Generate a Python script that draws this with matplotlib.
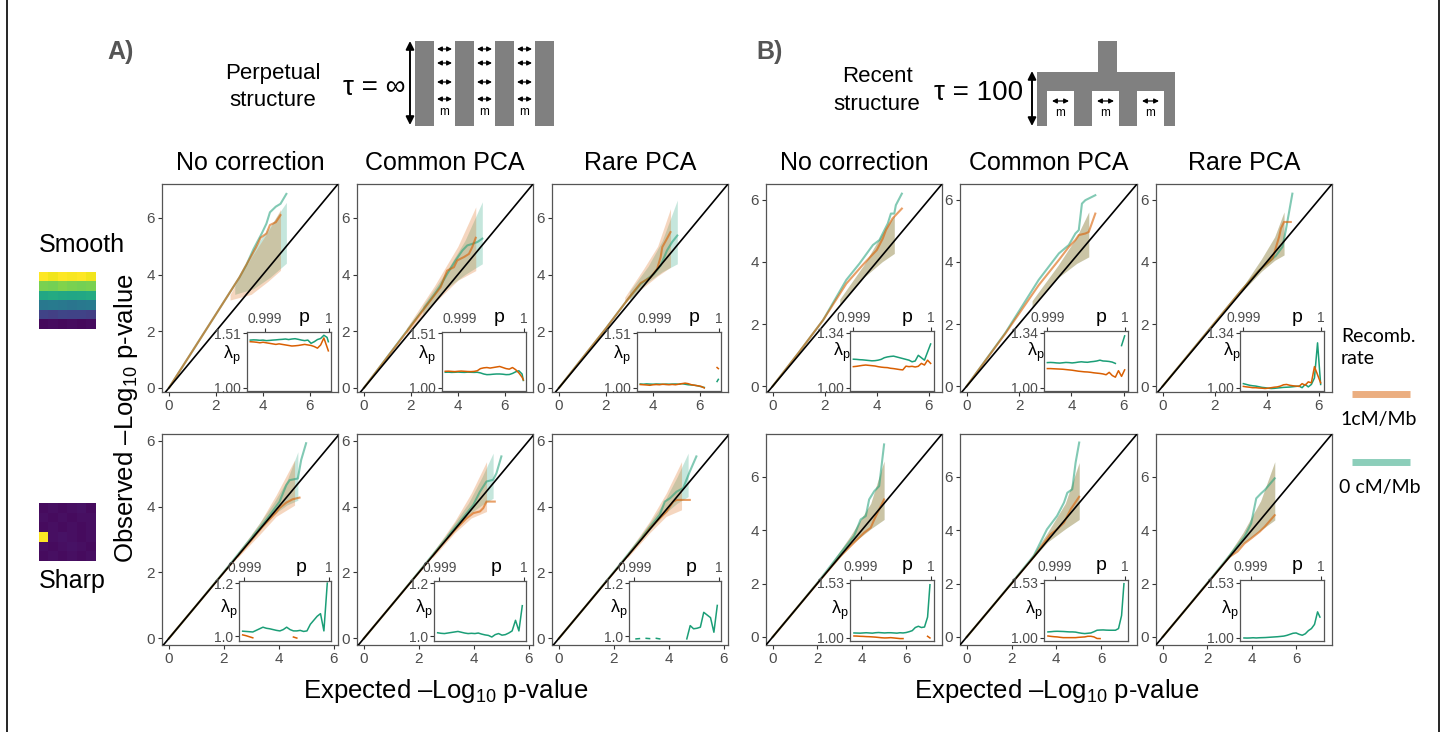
import matplotlib

matplotlib.use("Agg")
import matplotlib.pyplot as plt

W, H = 1445, 732
nan = float("nan")
ORANGE = "#d95f02"
GREEN = "#1b9e77"
GREY = "#4d4d4d"

# ── QQ curves: (expected, observed) ─────────────────────────────
# A) perpetual structure, smooth
A_SM_NONE_OR = ([0, 1, 2, 3, 3.3, 3.7, 3.9, 4.15, 4.3, 4.55, 4.75],
                [0, 1.3, 2.6, 3.9, 4.35, 4.95, 5.3, 5.45, 5.75, 5.85, 6.1])
A_SM_NONE_GR = ([0, 1, 2, 3, 3.3, 3.6, 3.95, 4.15, 4.3, 4.55, 4.75, 5.0],
                [0, 1.3, 2.6, 3.9, 4.35, 4.9, 5.45, 5.8, 6.2, 6.4, 6.5, 6.85])
A_SM_COMMON_OR = ([0, 1, 2, 3, 3.26, 3.54, 3.83, 3.97, 4.26, 4.47, 4.61, 4.76],
                  [0, 1.09, 2.18, 3.27, 3.55, 4.14, 4.26, 4.5, 4.62, 4.73, 4.97, 5.3])
A_SM_COMMON_GR = ([0, 1, 2, 3, 3.26, 3.54, 3.9, 4.19, 4.4, 4.6, 4.83, 5.04],
                  [0, 1.1, 2.2, 3.3, 3.61, 4.02, 4.5, 4.85, 5.03, 5.08, 5.15, 5.27])
A_SM_RARE_OR = ([0, 1, 2, 3, 3.48, 3.9, 4.18, 4.33, 4.4, 4.6, 4.75],
                [0, 1.05, 2.1, 3.2, 3.7, 3.9, 4.2, 4.62, 4.97, 5.27, 5.5])
A_SM_RARE_GR = ([0, 1, 2, 3, 3.48, 4.04, 4.33, 4.6, 4.82, 5.04],
                [0, 1.05, 2.1, 3.2, 3.67, 4.02, 4.32, 4.85, 5.15, 5.38])
# A) perpetual structure, sharp
A_SH_NONE_OR = ([0, 1, 2, 3, 3.4, 3.9, 4.02, 4.27, 4.5, 4.75],
                [0, 1.0, 2.0, 2.98, 3.38, 3.82, 3.95, 4.12, 4.22, 4.27])
A_SH_NONE_GR = ([0, 1, 2, 3, 3.5, 4.02, 4.27, 4.39, 4.69, 4.81, 4.99],
                [0, 1.0, 2.02, 3.05, 3.55, 4.14, 4.65, 4.8, 4.85, 5.41, 5.92])
A_SH_COMMON_OR = ([0, 1, 2, 2.76, 3.37, 3.73, 3.98, 4.22, 4.34, 4.46, 4.76],
                  [0, 1.0, 2.0, 2.76, 3.34, 3.64, 3.8, 3.85, 3.95, 4.15, 4.15])
A_SH_COMMON_GR = ([0, 1, 2, 3, 3.5, 3.98, 4.22, 4.46, 4.7, 4.82, 5.0],
                  [0, 1.0, 2.02, 3.05, 3.55, 4.05, 4.45, 4.76, 4.81, 5.01, 5.52])
A_SH_RARE_OR = ([0, 1, 2, 3, 3.31, 3.67, 3.92, 4.16, 4.28, 4.76],
                [0, 1.0, 2.0, 3.0, 3.34, 3.64, 3.85, 4.15, 4.2, 4.2])
A_SH_RARE_GR = ([0, 1, 2, 3, 3.67, 3.85, 4.04, 4.28, 4.52, 4.76, 5.0],
                [0, 1.0, 2.02, 3.05, 3.75, 4.15, 4.25, 4.45, 4.56, 5.06, 5.52])
# B) recent structure, smooth
B_SM_NONE_OR = ([0, 1, 1.94, 2.83, 3.46, 4.0, 4.23, 4.35, 4.6, 4.96],
                [0, 1.08, 2.13, 3.3, 3.9, 4.38, 4.75, 5.02, 5.39, 5.71])
B_SM_NONE_GR = ([0, 1, 1.94, 2.83, 3.34, 3.85, 4.1, 4.42, 4.54, 4.67, 4.73, 4.96],
                [0, 1.08, 2.13, 3.42, 3.95, 4.54, 4.7, 5.23, 5.55, 5.55, 5.82, 6.19])
B_SM_COMMON_OR = ([0, 1.48, 2.75, 3.52, 3.9, 4.15, 4.28, 4.53, 4.66, 4.91],
                  [0, 1.7, 3.25, 4.06, 4.48, 4.7, 4.86, 4.91, 4.96, 5.55])
B_SM_COMMON_GR = ([0, 1.48, 2.75, 3.52, 3.9, 4.15, 4.28, 4.4, 4.53, 4.91],
                  [0, 1.72, 3.42, 4.27, 4.54, 4.91, 5.02, 5.87, 5.98, 6.14])
B_SM_RARE_OR = ([0, 1, 2, 3, 3.7, 4.22, 4.47, 4.54, 4.66, 4.92],
                [0, 1.02, 2.04, 3.06, 3.72, 4.1, 4.8, 5.07, 5.28, 5.28])
B_SM_RARE_GR = ([0, 1, 2, 3, 3.7, 4.35, 4.6, 4.73, 4.98],
                [0, 1.02, 2.04, 3.06, 3.72, 4.2, 4.48, 5.02, 6.19])
# B) recent structure, sharp
B_SH_NONE_OR = ([0, 1, 2, 3.05, 3.65, 4.1, 4.4, 4.56, 5.0],
                [0, 1.0, 2.0, 3.03, 3.53, 3.9, 4.09, 4.4, 5.15])
B_SH_NONE_GR = ([0, 1, 2, 3.05, 3.65, 3.95, 4.18, 4.33, 4.56, 4.78, 5.0],
                [0, 1.0, 2.02, 3.15, 3.78, 4.4, 4.53, 5.15, 5.46, 5.65, 7.21])
B_SH_COMMON_OR = ([0, 1, 2, 3, 3.73, 4.03, 4.34, 4.64, 5.02],
                  [0, 1.0, 2.0, 3.0, 3.84, 4.03, 4.28, 4.78, 5.25])
B_SH_COMMON_GR = ([0, 1, 2, 3, 3.58, 4.03, 4.34, 4.49, 4.71, 4.86, 5.02],
                  [0, 1.0, 2.02, 3.05, 4.03, 4.53, 5.03, 5.4, 5.53, 6.53, 7.28])
B_SH_RARE_OR = ([0, 1, 2, 3, 3.36, 3.67, 3.97, 4.35, 4.58, 5.03],
                [0, 1.0, 2.0, 3.0, 3.2, 3.5, 3.69, 3.94, 4.13, 4.56])
B_SH_RARE_GR = ([0, 1, 2, 3, 3.67, 3.97, 4.2, 4.42, 4.58, 5.03],
                [0, 1.0, 2.02, 3.05, 3.75, 4.25, 5.19, 5.38, 5.5, 5.94])

# ── confidence bands: (expected, lower, upper) ──────────────────
A_SM_NONE_OR_BAND = ([2.6, 3.5, 4.2, 4.75], [3.1, 3.3, 3.75, 4.15], [3.3, 4.6, 5.5, 6.3])
A_SM_NONE_GR_BAND = ([2.8, 3.6, 4.3, 5.0], [3.3, 3.5, 3.9, 4.4], [3.6, 4.9, 5.7, 6.55])
A_SM_COMMON_OR_BAND = ([1.8, 3.0, 4.0, 4.76], [1.9, 3.0, 3.8, 4.14], [2.1, 3.6, 5.0, 6.39])
A_SM_COMMON_GR_BAND = ([2.5, 3.5, 4.3, 5.04], [2.6, 3.5, 4.0, 4.38], [2.9, 4.1, 5.2, 6.57])
A_SM_RARE_OR_BAND = ([2.8, 3.6, 4.2, 4.75], [3.0, 3.55, 3.95, 4.26], [3.2, 4.2, 5.0, 6.33])
A_SM_RARE_GR_BAND = ([3.0, 3.8, 4.4, 5.04], [3.1, 3.75, 4.1, 4.38], [3.4, 4.3, 5.2, 6.63])
A_SH_NONE_OR_BAND = ([2.5, 3.3, 3.9, 4.57], [2.45, 3.15, 3.7, 4.04], [2.6, 3.5, 4.35, 5.41])
A_SH_NONE_GR_BAND = ([3.0, 3.8, 4.3, 4.69], [3.0, 3.75, 4.05, 4.19], [3.15, 4.1, 4.8, 5.66])
A_SH_COMMON_OR_BAND = ([2.5, 3.3, 3.9, 4.46], [2.45, 3.2, 3.65, 3.85], [2.6, 3.55, 4.4, 5.36])
A_SH_COMMON_GR_BAND = ([3.0, 3.8, 4.3, 4.7], [3.0, 3.75, 4.05, 4.25], [3.15, 4.1, 4.9, 5.62])
A_SH_RARE_OR_BAND = ([2.5, 3.3, 3.9, 4.46], [2.45, 3.2, 3.7, 3.9], [2.6, 3.55, 4.4, 5.36])
A_SH_RARE_GR_BAND = ([3.0, 3.8, 4.3, 4.7], [3.0, 3.75, 4.1, 4.3], [3.15, 4.1, 4.9, 5.62])
B_SM_NONE_BAND = ([2.58, 3.5, 4.2, 4.67], [2.6, 3.5, 4.0, 4.27], [2.8, 3.9, 4.9, 5.5])
B_SM_COMMON_BAND = ([2.5, 3.5, 4.2, 4.66], [2.55, 3.5, 3.95, 4.16], [2.75, 3.9, 4.8, 5.6])
B_SM_RARE_BAND = ([3.0, 3.8, 4.3, 4.66], [3.0, 3.7, 4.05, 4.22], [3.1, 4.1, 4.8, 5.6])
B_SH_NONE_BAND = ([2.5, 3.5, 4.4, 5.0], [2.5, 3.45, 4.05, 4.4], [2.6, 3.8, 5.0, 6.59])
B_SH_COMMON_BAND = ([2.8, 3.6, 4.4, 5.02], [2.8, 3.55, 4.05, 4.4], [2.9, 3.9, 5.0, 6.53])
B_SH_RARE_BAND = ([2.8, 3.6, 4.4, 5.03], [2.8, 3.5, 4.0, 4.38], [2.9, 3.9, 5.1, 6.56])

# ── inset lambda_p curves, p grids per block ────────────────────
P_A_TOP = [0.99877, 0.99882, 0.99887, 0.99892, 0.99897, 0.99902, 0.99907, 0.99912, 0.99917,
           0.99922, 0.99927, 0.99932, 0.99937, 0.99942, 0.99947, 0.99952, 0.99957, 0.99962,
           0.99967, 0.99972, 0.99977, 0.99982, 0.99987, 0.99992, 0.99997, 0.99999]
P_A_BOT = [0.99898, 0.99902, 0.99906, 0.99910, 0.99914, 0.99918, 0.99922, 0.99926, 0.99930,
           0.99934, 0.99938, 0.99942, 0.99946, 0.99950, 0.99954, 0.99958, 0.99962, 0.99966,
           0.99970, 0.99974, 0.99978, 0.99982, 0.99986, 0.99990, 0.99994, 0.99998]
P_B_TOP = [0.99900, 0.99904, 0.99908, 0.99912, 0.99916, 0.99920, 0.99924, 0.99928, 0.99932,
           0.99936, 0.99940, 0.99944, 0.99948, 0.99952, 0.99956, 0.99960, 0.99964, 0.99968,
           0.99972, 0.99976, 0.99980, 0.99984, 0.99988, 0.99992, 0.99996, 1.00000]
P_B_BOT = [0.998900, 0.998944, 0.998988, 0.999032, 0.999076, 0.999120, 0.999164, 0.999208,
           0.999252, 0.999296, 0.999340, 0.999384, 0.999428, 0.999472, 0.999516, 0.999560,
           0.999604, 0.999648, 0.999692, 0.999736, 0.999780, 0.999824, 0.999868, 0.999912,
           0.999956, 0.999990]

A_SM_NONE_LAM_OR = [1.43, 1.428, 1.425, 1.42, 1.425, 1.42, 1.415, 1.41, 1.405, 1.41, 1.405, 1.40, 1.395,
                    1.39, 1.392, 1.395, 1.40, 1.405, 1.40, 1.395, 1.385, 1.37, 1.40, 1.465, 1.38, 1.345]
A_SM_NONE_LAM_GR = [1.445, 1.447, 1.446, 1.443, 1.445, 1.44, 1.442, 1.445, 1.447, 1.45, 1.452, 1.455, 1.45,
                    1.455, 1.458, 1.452, 1.445, 1.44, 1.445, 1.415, 1.43, 1.45, 1.46, 1.49, 1.47, 1.43]
A_SM_COMMON_LAM_OR = [1.155, 1.156, 1.154, 1.152, 1.155, 1.157, 1.155, 1.153, 1.152, 1.154, 1.16, 1.18, 1.187,
                      1.19, 1.185, 1.19, 1.195, 1.2, 1.19, 1.18, 1.175, 1.19, 1.17, 1.14, 1.10, 1.075]
A_SM_COMMON_LAM_GR = [1.146, 1.147, 1.145, 1.146, 1.148, 1.146, 1.145, 1.147, 1.146, 1.145, 1.146, 1.14, 1.13,
                      1.124, 1.125, 1.128, 1.13, 1.13, 1.128, 1.124, 1.125, 1.135, 1.15, 1.16, 1.13, 1.07]
A_SM_RARE_LAM_OR = [1.032, 1.03, 1.028, 1.025, 1.03, 1.032, 1.03, 1.035, 1.032, 1.03, 1.033, 1.03, 1.035,
                    1.04, 1.045, 1.04, 1.03, 1.025, 1.02, 1.015, 1.0, nan, nan, nan, 1.19, 1.18]
A_SM_RARE_LAM_GR = [1.037, 1.035, 1.038, 1.036, 1.035, 1.037, 1.036, 1.034, 1.036, 1.035, 1.036, 1.037, 1.035,
                    1.04, 1.035, 1.03, 1.028, 1.025, 1.02, 1.012, 1.005, nan, nan, nan, 1.06, 1.08]
A_SH_NONE_LAM_OR = [1.005, 1.002, 0.998, 0.994, nan, nan, nan, nan, nan, nan, nan, nan, nan,
                    nan, nan, 0.997, 0.993, nan, nan, nan, nan, nan, nan, nan, nan, nan]
A_SH_NONE_LAM_GR = [1.019, 1.018, 1.017, 1.016, 1.022, 1.028, 1.034, 1.03, 1.028, 1.025, 1.022, 1.02, 1.025,
                    1.034, 1.025, 1.02, 1.02, 1.022, 1.018, 1.02, 1.045, 1.06, 1.075, 1.085, 1.02, 1.2]
A_SH_COMMON_LAM_OR = [nan] * 26
A_SH_COMMON_LAM_GR = [1.013, 1.011, 1.01, 1.012, 1.014, 1.016, 1.018, 1.015, 1.012, 1.01, 1.011, 1.01, 1.012,
                      1.008, 1.005, 1.003, 0.997, 1.006, 1.01, 1.004, 1.006, 1.012, 1.02, 1.06, 1.02, 1.115]
A_SH_RARE_LAM_OR = [nan] * 26
A_SH_RARE_LAM_GR = [nan, 0.99, 0.991, nan, 0.992, 0.991, nan, 0.992, 0.99, nan, nan, nan, nan,
                    nan, nan, nan, 0.99, 1.04, 1.028, 1.03, 1.034, 1.09, 1.08, 1.07, 1.015, 1.116]
B_SM_NONE_LAM_OR = [1.13, 1.132, 1.135, 1.138, 1.14, 1.138, 1.136, 1.134, 1.13, 1.127, 1.125, 1.124, 1.12,
                    1.118, 1.115, 1.112, 1.11, 1.133, 1.13, 1.132, 1.128, 1.132, 1.15, 1.14, 1.17, 1.15]
B_SM_NONE_LAM_GR = [1.176, 1.175, 1.173, 1.172, 1.17, 1.168, 1.166, 1.167, 1.17, 1.175, 1.185, 1.19, 1.193,
                    1.195, 1.19, 1.185, 1.18, 1.175, 1.17, 1.16, 1.165, 1.2, 1.185, 1.17, 1.22, 1.27]
B_SM_COMMON_LAM_OR = [1.118, 1.118, 1.117, 1.116, 1.115, 1.114, 1.112, 1.11, 1.108, 1.105, 1.102, 1.1, 1.098,
                      1.097, 1.095, 1.092, 1.09, 1.088, 1.085, 1.08, 1.095, 1.075, 1.065, 1.105, 1.07, 1.11]
B_SM_COMMON_LAM_GR = [1.155, 1.156, 1.155, 1.153, 1.152, 1.154, 1.156, 1.155, 1.153, 1.155, 1.158, 1.16, 1.158,
                      1.157, 1.16, 1.162, 1.165, 1.17, 1.165, 1.164, 1.162, 1.158, 1.15, nan, 1.26, 1.32]
B_SM_RARE_LAM_OR = [1.008, 1.005, 1.003, 1.0, 1.0, 0.998, 0.997, 0.995, 0.997, 1.0, 1.003, 1.005, 1.01,
                    1.018, 1.02, 1.015, 1.012, 1.01, 1.008, 1.025, 1.015, 1.036, 1.03, 1.13, 1.08, 1.03]
B_SM_RARE_LAM_GR = [1.025, 1.02, 1.015, 1.012, 1.01, 1.006, 1.002, 1.0, 0.997, 0.995, 0.996, 0.998, 1.0,
                    1.002, 1.003, 1.004, 1.006, 1.008, 1.01, 1.0, 1.02, 1.005, 1.02, 1.06, 1.277, 1.02]
B_SH_NONE_LAM_OR = [1.019, 1.018, 1.016, 1.015, 1.013, 1.012, 1.01, 1.008, 1.005, 1.002, 1.0, 1.001, 1.003,
                    1.0, 0.997, 0.994, 0.994, nan, nan, nan, nan, nan, nan, nan, 1.016, 1.0]
B_SH_NONE_LAM_GR = [1.048, 1.047, 1.046, 1.048, 1.05, 1.048, 1.046, 1.05, 1.052, 1.05, 1.048, 1.05, 1.05,
                    1.048, 1.046, 1.05, 1.048, 1.052, 1.06, 1.07, 1.1, 1.112, 1.1, 1.105, 1.2, 1.51]
B_SH_COMMON_LAM_OR = [1.019, 1.015, 1.012, 1.01, 1.006, 1.003, 1.003, 1.003, 1.003, 1.003, 1.006, 1.008, 1.01,
                      1.016, 1.016, 1.01, 0.995, 0.994, nan, nan, nan, nan, nan, nan, nan, nan]
B_SH_COMMON_LAM_GR = [1.058, 1.06, 1.063, 1.064, 1.063, 1.062, 1.06, 1.058, 1.058, 1.056, 1.05, 1.045, 1.042,
                      1.045, 1.048, 1.06, 1.074, 1.076, 1.077, 1.075, 1.074, 1.074, 1.074, 1.09, 1.215, 1.52]
B_SH_RARE_LAM_OR = [nan] * 26
B_SH_RARE_LAM_GR = [1.0, 0.999, 1.0, 1.002, 1.0, 1.002, 1.003, 1.004, 1.006, 1.008, 1.01, 1.012, 1.015,
                    1.018, 1.025, 1.035, 1.045, 1.048, 1.035, 1.026, 1.04, 1.07, 1.09, 1.13, 1.25, 1.2]

COLUMN_TITLES = ["No correction", "Common PCA", "Rare PCA"]
INSET_TOP = {"A_top": 1.51, "A_bot": 1.2, "B_top": 1.34, "B_bot": 1.53}
INSET_TOP_LABELS = {"A_top": ("1.00", "1.51"), "A_bot": ("1.0", "1.2"),
                    "B_top": ("1.00", "1.34"), "B_bot": ("1.00", "1.53")}
# recombination-map swatches (viridis values)
SMOOTH_MAP = [[1.0, 0.98, 1.0, 0.99, 1.0, 0.98],
              [0.8, 0.79, 0.81, 0.8, 0.79, 0.8],
              [0.6, 0.61, 0.6, 0.59, 0.6, 0.61],
              [0.4, 0.41, 0.4, 0.39, 0.4, 0.41],
              [0.2, 0.19, 0.21, 0.2, 0.2, 0.19],
              [0.02, 0.03, 0.02, 0.03, 0.02, 0.03]]
SHARP_MAP = [[0.03, 0.04, 0.03, 0.04, 0.05, 0.03],
             [0.04, 0.03, 0.04, 0.03, 0.04, 0.04],
             [0.03, 0.04, 0.03, 0.04, 0.03, 0.04],
             [1.0, 0.04, 0.05, 0.04, 0.03, 0.04],
             [0.04, 0.03, 0.04, 0.05, 0.04, 0.03],
             [0.03, 0.04, 0.03, 0.04, 0.03, 0.04]]

plt.rcParams["font.family"] = ["Liberation Sans", "DejaVu Sans"]
plt.rcParams["mathtext.fontset"] = "custom"
plt.rcParams["mathtext.rm"] = "Liberation Sans"
plt.rcParams["mathtext.it"] = "Liberation Sans:italic"
plt.rcParams["mathtext.default"] = "regular"

fig = plt.figure(figsize=(W / 100, H / 100), dpi=100)
bg = fig.add_axes([0, 0, 1, 1])
bg.set_xlim(0, W)
bg.set_ylim(H, 0)
bg.axis("off")


def px_axes(l, t, r, b):
    return fig.add_axes([l / W, 1 - b / H, (r - l) / W, (b - t) / H])


def draw_panel(box, xlim, ylim, or_line, gr_line, or_band, gr_band):
    ax = px_axes(*box)
    ax.fill_between(gr_band[0], gr_band[1], gr_band[2], color=GREEN, alpha=0.25, lw=0)
    ax.fill_between(or_band[0], or_band[1], or_band[2], color=ORANGE, alpha=0.25, lw=0)
    ax.plot(gr_line[0], gr_line[1], color=GREEN, alpha=0.55, lw=1.5)
    ax.plot(or_line[0], or_line[1], color=ORANGE, alpha=0.6, lw=1.5)
    ax.axline((0, 0), slope=1, color="black", lw=1.2, zorder=3)
    ax.set_xlim(*xlim)
    ax.set_ylim(*ylim)
    ax.set_xticks([0, 2, 4, 6])
    ax.set_yticks([0, 2, 4, 6])
    ax.tick_params(length=3, width=0.8, color="#333333", labelsize=11,
                   labelcolor=GREY, pad=2)
    for s in ax.spines.values():
        s.set_color("#555555")
        s.set_linewidth(0.9)
    return ax


def draw_inset(box, block, p, lam_or, lam_gr, xlim, lam_xy, pad):
    ax = px_axes(*box)
    ax.plot(p, lam_gr, color=GREEN, lw=1.1)
    ax.plot(p, lam_or, color=ORANGE, lw=1.1)
    top = INSET_TOP[block]
    rng = top - 1
    ax.set_xlim(*xlim)
    ax.set_ylim(1 - pad[0] * rng, top + pad[1] * rng)
    ax.xaxis.tick_top()
    ax.set_xticks([0.999, 1.0], ["0.999", "1"])
    ax.set_yticks([1.0, top], INSET_TOP_LABELS[block])
    ax.tick_params(length=3, width=0.8, color="#333333", labelsize=10,
                   labelcolor=GREY, pad=1.2)
    for s in ax.spines.values():
        s.set_color("#555555")
        s.set_linewidth(0.9)
    h = box[3] - box[1]
    ax.text(0.68, 1 + 9.5 / h, "p", transform=ax.transAxes, ha="center",
            va="baseline", fontsize=14)
    ax.text(lam_xy[0], lam_xy[1], "λ$_p$", transform=ax.transAxes, ha="center",
            va="center", fontsize=13)


def inset_xlim(f999, f1):
    span = 0.001 / (f1 - f999)
    lo = 0.999 - f999 * span
    return lo, lo + span


COLS_A = [(162, 338), (357, 533), (552, 728)]
COLS_B = [(766, 942), (960, 1137), (1156, 1332)]
ROW_TOP = (184, 392)
ROW_BOT = (434, 645)

BLOCKS = [
    # block, columns, row, axis limits, inset geometry, lambda label pos, inset y pad, curves
    ("A_top", COLS_A, ROW_TOP, (-0.3, 7.2), (-0.15, 7.2), (85, 169, 332, 391), P_A_TOP,
     inset_xlim(0.214, 0.976), (-0.18, 0.6), (0.055, 0.02),
     [(A_SM_NONE_OR, A_SM_NONE_GR, A_SM_NONE_OR_BAND, A_SM_NONE_GR_BAND, A_SM_NONE_LAM_OR, A_SM_NONE_LAM_GR),
      (A_SM_COMMON_OR, A_SM_COMMON_GR, A_SM_COMMON_OR_BAND, A_SM_COMMON_GR_BAND, A_SM_COMMON_LAM_OR, A_SM_COMMON_LAM_GR),
      (A_SM_RARE_OR, A_SM_RARE_GR, A_SM_RARE_OR_BAND, A_SM_RARE_GR_BAND, A_SM_RARE_LAM_OR, A_SM_RARE_LAM_GR)]),
    ("A_bot", COLS_A, ROW_BOT, (-0.25, 6.15), (-0.2, 6.2), (77, 169, 581, 641), P_A_BOT,
     inset_xlim(0.058, 0.978), (-0.11, 0.52), (0.09, 0.04),
     [(A_SH_NONE_OR, A_SH_NONE_GR, A_SH_NONE_OR_BAND, A_SH_NONE_GR_BAND, A_SH_NONE_LAM_OR, A_SH_NONE_LAM_GR),
      (A_SH_COMMON_OR, A_SH_COMMON_GR, A_SH_COMMON_OR_BAND, A_SH_COMMON_GR_BAND, A_SH_COMMON_LAM_OR, A_SH_COMMON_LAM_GR),
      (A_SH_RARE_OR, A_SH_RARE_GR, A_SH_RARE_OR_BAND, A_SH_RARE_GR_BAND, A_SH_RARE_LAM_OR, A_SH_RARE_LAM_GR)]),
    ("B_top", COLS_B, ROW_TOP, (-0.25, 6.5), (-0.18, 6.5), (84, 168, 331, 391), P_B_TOP,
     inset_xlim(0.04, 0.96), (-0.1, 0.65), (0.06, 0.03),
     [(B_SM_NONE_OR, B_SM_NONE_GR, B_SM_NONE_BAND, B_SM_NONE_BAND, B_SM_NONE_LAM_OR, B_SM_NONE_LAM_GR),
      (B_SM_COMMON_OR, B_SM_COMMON_GR, B_SM_COMMON_BAND, B_SM_COMMON_BAND, B_SM_COMMON_LAM_OR, B_SM_COMMON_LAM_GR),
      (B_SM_RARE_OR, B_SM_RARE_GR, B_SM_RARE_BAND, B_SM_RARE_BAND, B_SM_RARE_LAM_OR, B_SM_RARE_LAM_GR)]),
    ("B_bot", COLS_B, ROW_BOT, (-0.3, 7.6), (-0.3, 7.6), (84, 168, 580, 641), P_B_BOT,
     inset_xlim(0.13, 0.96), (-0.12, 0.5), (0.055, 0.048),
     [(B_SH_NONE_OR, B_SH_NONE_GR, B_SH_NONE_BAND, B_SH_NONE_BAND, B_SH_NONE_LAM_OR, B_SH_NONE_LAM_GR),
      (B_SH_COMMON_OR, B_SH_COMMON_GR, B_SH_COMMON_BAND, B_SH_COMMON_BAND, B_SH_COMMON_LAM_OR, B_SH_COMMON_LAM_GR),
      (B_SH_RARE_OR, B_SH_RARE_GR, B_SH_RARE_BAND, B_SH_RARE_BAND, B_SH_RARE_LAM_OR, B_SH_RARE_LAM_GR)]),
]

for block, cols, row, xlim, ylim, ins, p_grid, p_lim, lam_xy, pad, curves in BLOCKS:
    for (l, r), (or_line, gr_line, or_band, gr_band, lam_or, lam_gr) in zip(cols, curves):
        draw_panel((l, row[0], r, row[1]), xlim, ylim, or_line, gr_line, or_band, gr_band)
        draw_inset((l + ins[0], ins[2], l + ins[1], ins[3]), block, p_grid,
                   lam_or, lam_gr, p_lim, lam_xy, pad)

# ── column titles and axis labels ────────────────────────────────
for cols in (COLS_A, COLS_B):
    for (l, r), title in zip(cols, COLUMN_TITLES):
        bg.text((l + r) / 2, 170, title, ha="center", va="baseline", fontsize=18)

bg.text(446, 698, "Expected \u2013Log$_{10}$ p-value", ha="center", va="baseline", fontsize=18.5)
bg.text(1057, 698, "Expected \u2013Log$_{10}$ p-value", ha="center", va="baseline", fontsize=18.5)
bg.text(133, 418, "Observed \u2013Log$_{10}$ p-value", ha="center", va="baseline",
        rotation=90, rotation_mode="anchor", fontsize=18.5)

# ── panel letters and schematic diagrams ────────────────────────
bg.text(107, 52, "A)", fontsize=18, fontweight="bold", color="#555555", va="center")
bg.text(756, 52, "B)", fontsize=18, fontweight="bold", color="#555555", va="center")

bg.text(273, 73, "Perpetual", ha="center", va="center", fontsize=16)
bg.text(273, 100, "structure", ha="center", va="center", fontsize=16)
bg.text(343, 88, "τ = ∞", ha="left", va="center", fontsize=20)
bg.annotate("", xy=(410, 41), xytext=(410, 125),
            arrowprops=dict(arrowstyle="<|-|>", color="black", lw=1.4,
                            mutation_scale=12, shrinkA=0, shrinkB=0))
for x0 in (415, 455, 495, 535):
    bg.add_patch(plt.Rectangle((x0, 41), 19, 85, color="#808080", lw=0))
for g0 in (434, 474, 514):
    for yy in (49, 63, 82, 99):
        bg.annotate("", xy=(g0 + 3, yy), xytext=(g0 + 18, yy),
                    arrowprops=dict(arrowstyle="<|-|>", color="black", lw=0.9,
                                    mutation_scale=7, shrinkA=0, shrinkB=0))
    bg.text(g0 + 10.5, 112, "m", ha="center", va="center", fontsize=8.5)

bg.text(877, 76, "Recent", ha="center", va="center", fontsize=16)
bg.text(877, 105, "structure", ha="center", va="center", fontsize=16)
bg.text(934, 93, "τ = 100", ha="left", va="center", fontsize=20)
bg.annotate("", xy=(1032, 71), xytext=(1032, 126),
            arrowprops=dict(arrowstyle="<|-|>", color="black", lw=1.4,
                            mutation_scale=12, shrinkA=0, shrinkB=0))
bg.add_patch(plt.Rectangle((1098, 41), 19, 32, color="#808080", lw=0))
bg.add_patch(plt.Rectangle((1037, 72), 138, 54, color="#808080", lw=0))
for n0 in (1047, 1092, 1137):
    bg.add_patch(plt.Rectangle((n0, 91), 27, 36, color="white", lw=0))
    bg.annotate("", xy=(n0 + 5, 101), xytext=(n0 + 22, 101),
                arrowprops=dict(arrowstyle="<|-|>", color="black", lw=0.9,
                                mutation_scale=7, shrinkA=0, shrinkB=0))
    bg.text(n0 + 13.5, 113, "m", ha="center", va="center", fontsize=8.5)

# ── recombination map swatches ──────────────────────────────────
bg.text(39, 245, "Smooth", ha="left", va="center", fontsize=18)
bg.imshow(SMOOTH_MAP, cmap="viridis", vmin=0, vmax=1, extent=(39, 96, 329, 272),
          aspect="auto", interpolation="nearest")
bg.imshow(SHARP_MAP, cmap="viridis", vmin=0, vmax=1, extent=(39, 96, 561, 503),
          aspect="auto", interpolation="nearest")
bg.text(39, 581, "Sharp", ha="left", va="center", fontsize=18)

# ── legend ──────────────────────────────────────────────────────
LEG = ["Lato", "DejaVu Sans"]
bg.text(1341, 336, "Recomb.", family=LEG, fontsize=14, va="center")
bg.text(1341, 358, "rate", family=LEG, fontsize=14, va="center")
bg.plot([1352, 1410], [394, 394], color=ORANGE, alpha=0.5, lw=5, solid_capstyle="butt")
bg.text(1340, 420, "1cM/Mb", family=LEG, fontsize=14, va="center")
bg.plot([1352, 1410], [462, 462], color=GREEN, alpha=0.5, lw=5, solid_capstyle="butt")
bg.text(1339, 487, "0 cM/Mb", family=LEG, fontsize=14, va="center")

# outer frame lines
bg.plot([7, 7], [0, H], color="black", lw=1.2)
bg.plot([1439, 1439], [0, H], color="black", lw=1.2)
bg.set_xlim(0, W)
bg.set_ylim(H, 0)

fig.savefig("out.png", dpi=100)
